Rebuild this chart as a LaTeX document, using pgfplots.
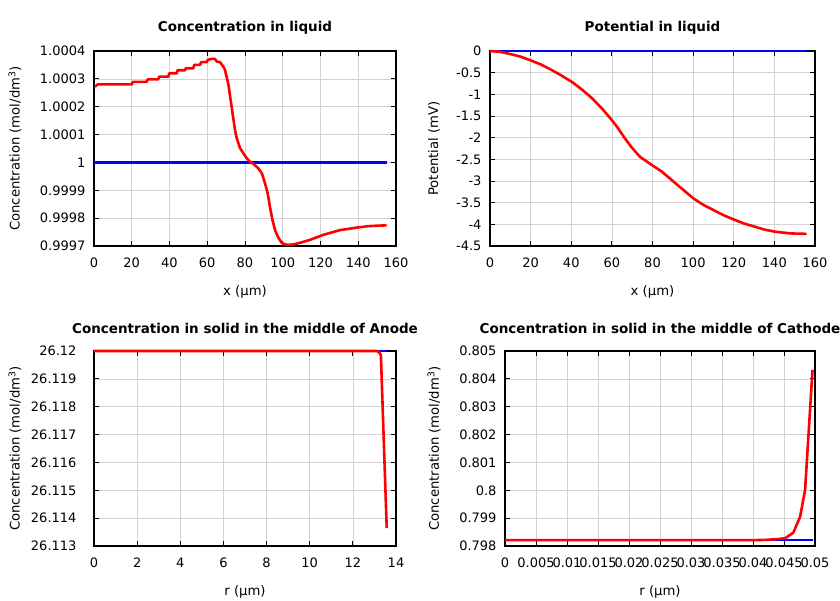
\documentclass[border=0pt]{standalone}
\usepackage{pgfplots}
\pgfplotsset{compat=1.18}
\usepackage{fontspec}
\setmainfont{DejaVu Sans}
\newcommand{\fs}{\fontsize{13.2}{15}\selectfont}
\newcommand{\fst}{\fontsize{13}{15}\selectfont}
\newcommand{\fsT}{\fontsize{13.5}{16}\selectfont}
\pgfplotsset{
  myax/.style={
    scale only axis, clip=false, grid=major,
    major grid style={gray!35, line width=0.6pt},
    tick align=inside, major tick length=5pt,
    every tick/.style={black, line width=0.9pt},
    axis line style={line width=1.2pt},
    scaled x ticks=false, scaled y ticks=false,
    /pgf/number format/assume math mode=true,
    tick label style={font=\fst},
    label style={font=\fs},
    title style={at={(axis description cs:0.5,1.118)}, anchor=center, yshift=-6pt, font=\bfseries\fsT},
    xlabel style={at={(axis description cs:0.5,-0.233)}, anchor=center},
    xticklabel style={yshift=-8pt},
    yticklabel style={xshift=-5pt},
    every axis plot/.append style={line width=2.6pt, line join=round, no markers},
  }
}
% Panel 1: concentration c stored as (c-1)*1e4 ; Panel 3: c stored as (c-26.12)*1e3
% (offsets are used for numeric precision; tick labels show the real values)
\pgfplotstableread{
x y
0.5 2.72
2 2.80
20 2.80
20.5 2.89
27.9 2.89
28.4 2.98
34 2.98
34.5 3.08
39.4 3.08
39.9 3.20
43.8 3.20
44.3 3.31
48.2 3.31
48.7 3.38
52.6 3.38
53.1 3.50
56.2 3.50
56.7 3.60
59.7 3.60
60.3 3.68
62.3 3.72
64.1 3.72
65 3.62
66.8 3.60
68.5 3.44
69.4 3.32
71.2 2.80
72.9 2.00
74.7 1.16
75.6 0.87
77.4 0.51
79.1 0.33
80.9 0.15
82.6 0.03
85 -0.08
87 -0.21
89 -0.40
90.6 -0.75
92 -1.10
93.2 -1.59
94.5 -2.05
95.9 -2.43
97.5 -2.68
99.4 -2.88
101 -2.94
102.9 -2.96
106 -2.94
110 -2.87
114.4 -2.78
121.5 -2.60
130.3 -2.43
139.2 -2.34
145 -2.29
150 -2.27
155 -2.26
}\cliqred
\pgfplotstableread{
x y
0 0
155 0
}\cliqblue
\pgfplotstableread{
x y
0 0
5 -0.02
10 -0.07
15 -0.13
19.7 -0.21
25 -0.31
30 -0.43
35 -0.56
40.2 -0.71
45 -0.88
50 -1.08
55 -1.32
59.9 -1.59
63 -1.78
66 -1.99
70 -2.24
73.8 -2.44
79 -2.61
84.5 -2.78
92 -3.08
100.1 -3.40
105 -3.55
110 -3.67
115 -3.79
120.6 -3.90
125 -3.98
130 -4.05
135 -4.12
140.3 -4.17
148 -4.21
155.9 -4.22
}\potred
\pgfplotstableread{
x y
0 0
155.9 0
}\potblue
\pgfplotstableread{
x y
0 0
13.1 0
13.2 -0.03
13.3 -0.15
13.57 -6.36
}\anored
\pgfplotstableread{
x y
0 0
13.57 0
}\anoblue
\pgfplotstableread{
x y
0 0.79821
0.04 0.79821
0.042 0.79822
0.0441 0.79825
0.0452 0.79828
0.0465 0.79848
0.0476 0.79905
0.0484 0.80001
0.0496 0.80432
}\catred
\pgfplotstableread{
x y
0 0.79821
0.0497 0.79821
}\catblue
\begin{document}
\begin{tikzpicture}[font=\fs]
\path[use as bounding box] (0,0) rectangle (840pt,600pt);
% Panel 1
\begin{axis}[myax, at={(94pt,354pt)}, anchor=south west, width=302pt, height=195pt,
  xmin=0, xmax=160, ymin=-3, ymax=4,
  xtick={0,20,...,160},
  ytick={-3,-2,-1,0,1,2,3,4},
  yticklabels={0.9997,0.9998,0.9999,1,1.0001,1.0002,1.0003,1.0004},
  title={Concentration in liquid},
  xlabel={x (μm)}, ylabel={Concentration (mol/dm\textsuperscript{3})},
  ylabel style={at={(axis description cs:-0.262,0.5)}, anchor=center}]
\addplot[blue] table {\cliqblue};
\addplot[red] table {\cliqred};
\end{axis}
% Panel 2
\begin{axis}[myax, at={(490pt,354pt)}, anchor=south west, width=325pt, height=195pt,
  xmin=0, xmax=160, ymin=-4.5, ymax=0,
  xtick={0,20,...,160},
  ytick={-4.5,-4,-3.5,-3,-2.5,-2,-1.5,-1,-0.5,0},
  yticklabels={-4.5,-4,-3.5,-3,-2.5,-2,-1.5,-1,-0.5,0},
  title={Potential in liquid},
  xlabel={x (μm)}, ylabel={Potential (mV)},
  ylabel style={at={(axis description cs:-0.1723,0.5)}, anchor=center}]
\addplot[blue] table {\potblue};
\addplot[red] table {\potred};
\end{axis}
% Panel 3
\begin{axis}[myax, at={(94pt,54pt)}, anchor=south west, width=302pt, height=195pt,
  xmin=0, xmax=14, ymin=-7, ymax=0,
  xtick={0,2,...,14},
  ytick={-7,-6,-5,-4,-3,-2,-1,0},
  yticklabels={26.113,26.114,26.115,26.116,26.117,26.118,26.119,26.12},
  yticklabel style={xshift=-9pt},
  title={Concentration in solid in the middle of Anode},
  xlabel={r (μm)}, ylabel={Concentration (mol/dm\textsuperscript{3})},
  ylabel style={at={(axis description cs:-0.262,0.5)}, anchor=center}]
\addplot[blue] table {\anoblue};
\addplot[red] table {\anored};
\end{axis}
% Panel 4
\begin{axis}[myax, at={(505pt,54pt)}, anchor=south west, width=310pt, height=195pt,
  xmin=0, xmax=0.05, ymin=0.798, ymax=0.805,
  xtick={0,0.005,0.01,0.015,0.02,0.025,0.03,0.035,0.04,0.045,0.05},
  xticklabels={0,0.005,0.01,0.015,0.02,0.025,0.03,0.035,0.04,0.045,0.05},
  ytick={0.798,0.799,0.8,0.801,0.802,0.803,0.804,0.805},
  yticklabels={0.798,0.799,0.8,0.801,0.802,0.803,0.804,0.805},
  title={Concentration in solid in the middle of Cathode},
  xlabel={r (μm)}, ylabel={Concentration (mol/dm\textsuperscript{3})},
  ylabel style={at={(axis description cs:-0.229,0.5)}, anchor=center}]
\addplot[blue] table {\catblue};
\addplot[red] table {\catred};
\end{axis}
\end{tikzpicture}
\end{document}
